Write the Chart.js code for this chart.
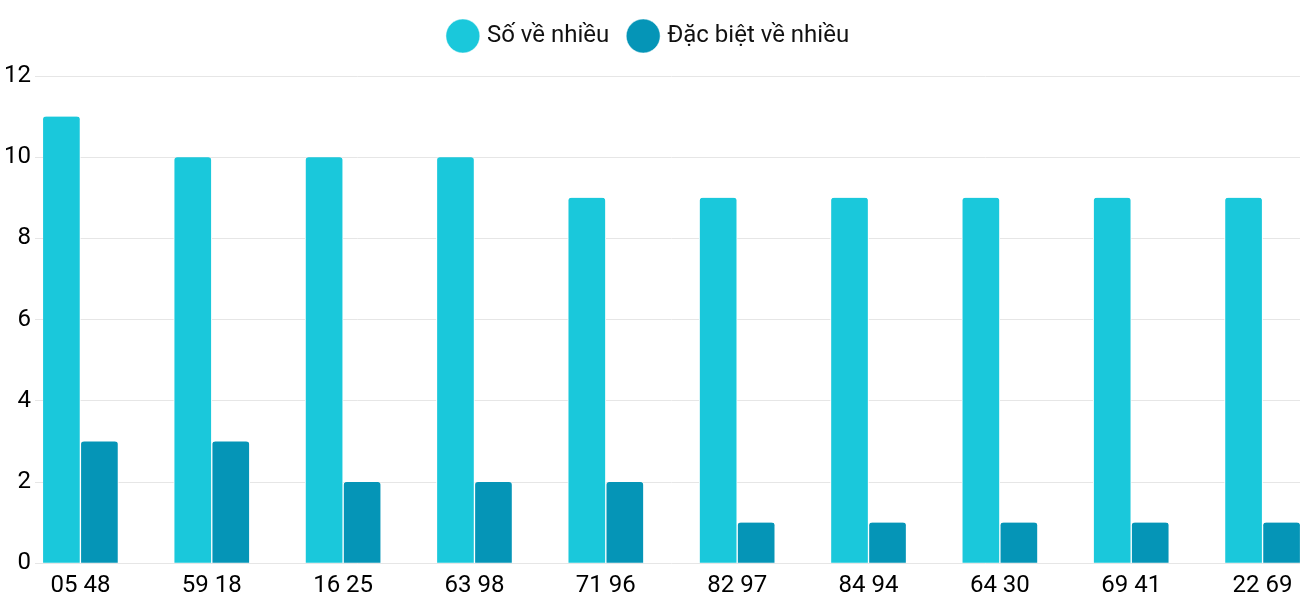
<!DOCTYPE html>
<html><head><meta charset="utf-8">
<script src="https://cdn.jsdelivr.net/npm/chart.js@4"></script>
<style>html,body{margin:0;padding:0;background:#fff}#w{width:1300px;height:600px}</style>
</head><body><div id="w"><canvas id="c"></canvas></div>
<script>
const categories=["05 48","59 18","16 25","63 98","71 96","82 97","84 94","64 30","69 41","22 69"];
const soVeNhieu=[11,10,10,10,9,9,9,9,9,9];
const dacBiet=[3,3,2,2,2,1,1,1,1,1];
const yTicks=[0,2,4,6,8,10,12];
const pts=a=>a.map((v,i)=>({x:i,y:v}));
const legendPad={id:'legendPad',beforeInit(chart){const f=chart.legend.fit;chart.legend.fit=function(){f.bind(chart.legend)();this.height+=18;};}};
new Chart(document.getElementById('c'),{
type:'bar',
plugins:[legendPad],
data:{datasets:[
{label:'Số về nhiều',data:pts(soVeNhieu),backgroundColor:'#1ac8db',borderColor:'#fff',borderWidth:{left:1,right:1,top:0},borderRadius:{topLeft:4,topRight:4},borderSkipped:'bottom',barThickness:38},
{label:'Đặc biệt về nhiều',data:pts(dacBiet),backgroundColor:'#0595b7',borderColor:'#fff',borderWidth:{left:1,right:1,top:0},borderRadius:{topLeft:4,topRight:4},borderSkipped:'bottom',barThickness:38}
]},
options:{responsive:true,maintainAspectRatio:false,animation:false,
layout:{padding:{left:0,right:0,top:2,bottom:0}},
plugins:{legend:{labels:{usePointStyle:true,pointStyle:'circle',boxWidth:26,boxHeight:26,padding:22,font:{family:'Roboto',size:24},color:'#111'}},tooltip:{enabled:false}},
scales:{
x:{type:'linear',min:-0.285,max:9.285,offset:false,grid:{display:false},border:{display:false},
afterBuildTicks:ax=>{ax.ticks=categories.map((c,i)=>({value:i}));},
ticks:{callback:v=>categories[v],font:{family:'Roboto',size:24},color:'#000',maxRotation:0,autoSkip:false,padding:0}},
y:{min:0,max:12,grid:{color:'#e6e6e6'},border:{display:false},
afterBuildTicks:ax=>{ax.ticks=yTicks.map(v=>({value:v}));},
ticks:{font:{family:'Roboto',size:24},color:'#000',padding:4}}
}}});
</script></body></html>
